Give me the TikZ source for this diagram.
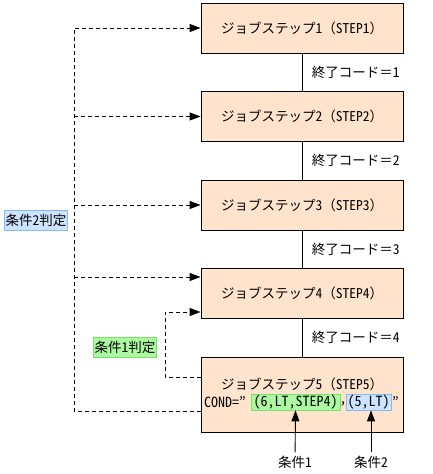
\documentclass[tikz,border=0pt]{standalone}
\usepackage{fontspec}
\setmainfont{Noto Sans CJK JP}
\newfontfamily\halfw{Noto Sans CJK JP}[RawFeature=+hwid]
\newcommand{\hw}[1]{{\halfw #1}}
\usepackage{tikz}
\usetikzlibrary{arrows.meta}

\definecolor{stepFill}{RGB}{255,227,205}
\definecolor{greenFill}{RGB}{172,250,160}
\definecolor{greenLine}{RGB}{120,225,110}
\definecolor{blueFill}{RGB}{204,228,255}
\definecolor{blueLine}{RGB}{135,185,245}

\begin{document}
\begin{tikzpicture}[x=1pt,y=-1pt,font=\fontsize{13.5}{15}\selectfont,
  stepBox/.style={draw, fill=stepFill, line width=0.9pt, minimum width=202pt, minimum height=50pt, inner sep=0pt},
  condOne/.style={fill=greenFill, draw=greenLine, line width=0.8pt, inner sep=0pt, minimum height=16pt},
  condTwo/.style={fill=blueFill, draw=blueLine, line width=0.8pt, inner sep=0pt, minimum height=16pt},
  condText/.style={font=\fontsize{14}{15}\halfw},
  judgeLine/.style={line width=0.9pt, dash pattern=on 4pt off 3pt},
  tip/.style={-{Triangle[length=11pt,width=8pt]}}]

\useasboundingbox (0,0) rectangle (433,474);

\node[stepBox] (stepA) at (302,28) {ジョブステップ\hw{1}（\hw{STEP1}）};
\node[stepBox] (stepB) at (302,116.5) {ジョブステップ\hw{2}（\hw{STEP2}）};
\node[stepBox] (stepC) at (302,205) {ジョブステップ\hw{3}（\hw{STEP3}）};
\node[stepBox] (stepD) at (302,293.5) {ジョブステップ\hw{4}（\hw{STEP4}）};
\node[stepBox, minimum height=75pt] (stepE) at (302,394.5) {};

\node[inner sep=0pt] (titleE) at (302,384) {ジョブステップ\hw{5}（\hw{STEP5}）};
\node[condText, anchor=west, inner sep=0pt] (condA) at (204,402) {COND=”};
\node[condText, condOne, minimum width=89pt] (condB) at (295.5,402) {(6,LT,STEP4)};
\node[condText, inner sep=0pt] (condC) at (343,404) {,};
\node[condText, condTwo, minimum width=45pt] (condD) at (368.5,402) {(5,LT)};
\node[condText, anchor=west, inner sep=0pt] (condE) at (392,402) {”};

% end codes between the steps
\draw[line width=0.9pt] (stepA) -- (stepB) node[midway, anchor=west, xshift=6pt] (codeA) {終了コード＝\hw{1}};
\draw[line width=0.9pt] (stepB) -- (stepC) node[midway, anchor=west, xshift=6pt] (codeB) {終了コード＝\hw{2}};
\draw[line width=0.9pt] (stepC) -- (stepD) node[midway, anchor=west, xshift=6pt] (codeC) {終了コード＝\hw{3}};
\draw[line width=0.9pt] (stepD) -- (stepE) node[midway, anchor=west, xshift=6pt] (codeD) {終了コード＝\hw{4}};

% condition 2 check
\coordinate (leftTop) at (74,28);
\coordinate (leftBot) at (74,411);
\draw[judgeLine, tip] ([yshift=-16.5pt]stepE.west) -- (leftBot) -- (leftTop) -- (stepA.west);
\draw[judgeLine, tip] (leftBot |- stepB.west) -- (stepB.west);
\draw[judgeLine, tip] (leftBot |- stepC.west) -- (stepC.west);
\draw[judgeLine, tip] (leftBot |- 0,277) -- ([yshift=16.5pt]stepD.west);
\node[condTwo, inner xsep=1.5pt, minimum height=20pt] (judgeTwo) at (36,220) {条件\hw{2}判定};

% condition 1 check
\coordinate (midBot) at (165,377);
\coordinate (midTop) at (165,312);
\draw[judgeLine, tip] (midBot -| stepE.west) -- (midBot) -- (midTop) -- ([yshift=-18.5pt]stepD.west);
\node[condOne, inner xsep=1.5pt, minimum height=20pt] (judgeOne) at (125,347) {条件\hw{1}判定};

% the two conditions
\node (labelOne) at (295,462) {条件\hw{1}};
\node (labelTwo) at (371,462) {条件\hw{2}};
\draw[line width=0.9pt, tip] (labelOne) -- (condB.south);
\draw[line width=0.9pt, tip] (labelTwo) -- (labelTwo |- condD.south);

\end{tikzpicture}
\end{document}
